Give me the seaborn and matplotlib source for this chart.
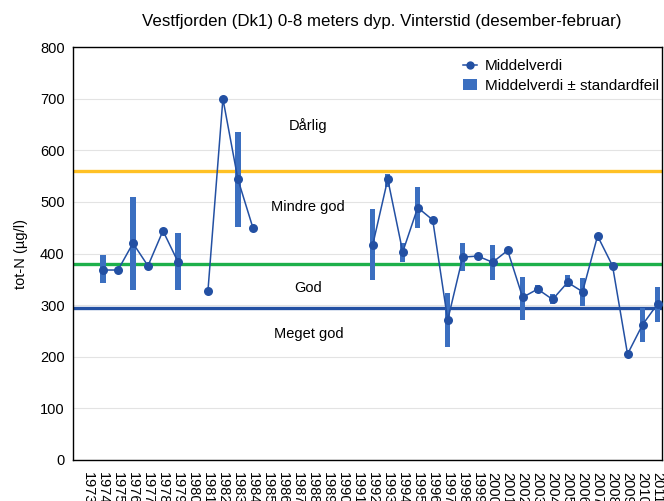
import matplotlib
matplotlib.use('Agg')
import matplotlib.pyplot as plt
from matplotlib.ticker import MultipleLocator
from matplotlib.lines import Line2D
from matplotlib.patches import Patch
import pandas as pd
import numpy as np
import seaborn as sns

# annual winter means (NaN = no data that year)
years = list(range(1974, 2012))
mean = [368, 368, 420, 376, 444, 384, np.nan, 327, 700, 544, 450,
        np.nan, np.nan, np.nan, np.nan, np.nan, np.nan, np.nan,
        417, 544, 403, 489, 465, 271, 393, 395, 383, 406, 315, 331,
        311, 344, 326, 434, 376, 205, 262, 302]
se_low = [342, np.nan, 329, np.nan, np.nan, 329, np.nan, np.nan, np.nan, 452, np.nan,
          np.nan, np.nan, np.nan, np.nan, np.nan, np.nan, np.nan,
          348, 528, 384, 450, np.nan, 218, 367, np.nan, 349, np.nan, 271, 323,
          302, 336, 298, np.nan, np.nan, np.nan, 229, 268]
se_high = [398, np.nan, 510, np.nan, np.nan, 440, np.nan, np.nan, np.nan, 636, np.nan,
           np.nan, np.nan, np.nan, np.nan, np.nan, np.nan, np.nan,
           486, 555, 420, 528, np.nan, 324, 420, np.nan, 417, np.nan, 355, 339,
           321, 358, 352, np.nan, np.nan, np.nan, 294, 336]
tick_years = list(range(1973, 2012))

# class limits
limits = [560, 380, 295]
limit_colors = ['#ffc125', '#1db04b', '#2350a3']
class_names = ['Dårlig', 'Mindre god', 'God', 'Meget god']
class_y = [648, 490, 333, 244]

df = pd.DataFrame({'year': years, 'mean': mean, 'lo': se_low, 'hi': se_high})
df['segment'] = df['mean'].isna().cumsum()
pts = df.dropna(subset=['mean'])
err = df.dropna(subset=['lo'])

plt.rcParams['font.family'] = ['Liberation Sans', 'DejaVu Sans']
fig = plt.figure(figsize=(6.64, 5.01), dpi=100)
ax = fig.add_axes([0.110, 0.082, 0.887, 0.824])

line_c = '#2350a3'
bar_c = '#3b6fc0'

for y, c in zip(limits, limit_colors):
    ax.axhline(y, color=c, lw=2.4, zorder=2)

ax.bar(err['year'], err['hi'] - err['lo'], bottom=err['lo'], width=0.36,
       color=bar_c, edgecolor='none', zorder=3)
sns.lineplot(data=pts, x='year', y='mean', units='segment', estimator=None,
             color=line_c, lw=1.1, marker='o', markersize=6.5,
             markeredgewidth=0, ax=ax, zorder=4)

for name, y in zip(class_names, class_y):
    ax.text(1987.7, y, name, ha='center', va='center', fontsize=10.5)

ax.set_xlim(1972, 2011.3)
ax.set_ylim(0, 800)
ax.yaxis.set_major_locator(MultipleLocator(100))
ax.set_xticks(tick_years)
ax.set_xticklabels([str(y) for y in tick_years], rotation=-90, fontsize=10.5)
ax.set_xticks(tick_years[::2], minor=True)
ax.tick_params(axis='x', which='major', length=0, pad=9)
ax.tick_params(axis='x', which='minor', length=4, direction='in', top=True)
ax.tick_params(axis='y', length=0, labelsize=10.5, pad=6)
ax.grid(axis='x', which='minor', color='#e3e3e3', lw=0.8)
ax.grid(axis='y', which='major', color='#e3e3e3', lw=0.8)
ax.set_axisbelow(True)
for s in ax.spines.values():
    s.set_color('black')
    s.set_linewidth(1.0)

ax.set_xlabel('')
ax.set_ylabel('tot-N (µg/l)', fontsize=10.5, labelpad=9)
ax.set_title('Vestfjorden (Dk1) 0-8 meters dyp. Vinterstid (desember-februar)',
             fontsize=12.2, pad=15, x=0.524)

handles = [Line2D([0], [0], color=line_c, lw=1.1, marker='o', markersize=6,
                  markeredgewidth=0),
           Patch(facecolor=bar_c, edgecolor='none')]
ax.legend(handles, ['Middelverdi', 'Middelverdi ± standardfeil'],
          loc='upper right', bbox_to_anchor=(1.015, 1.0), frameon=False,
          fontsize=11, handlelength=0.9, handletextpad=0.5,
          borderaxespad=0.4, labelspacing=0.35)

fig.savefig('out.png', dpi=100)
